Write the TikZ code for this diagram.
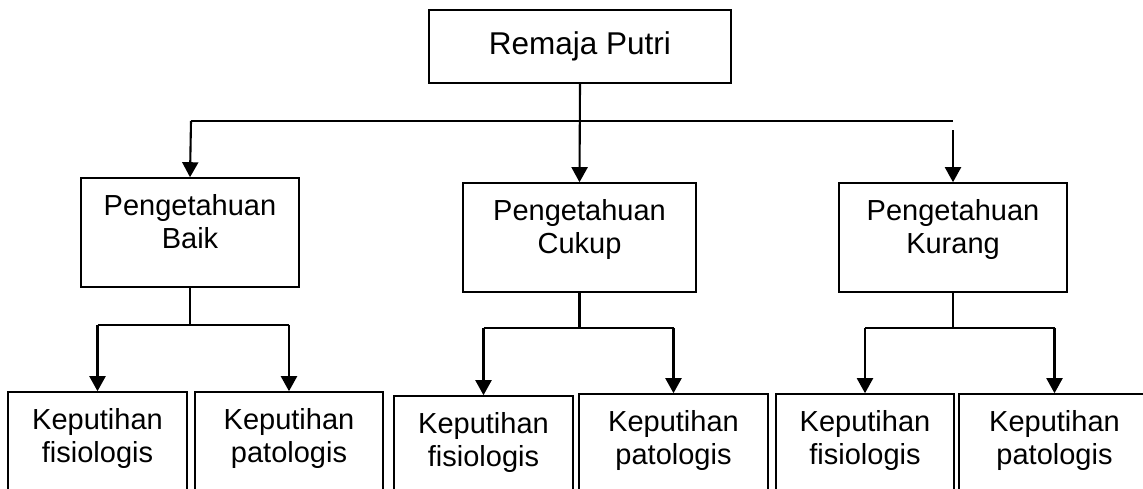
\documentclass[tikz,border=0pt]{standalone}
\usepackage{fontspec}
\setmainfont{Liberation Sans}
\usetikzlibrary{arrows.meta}
\tikzset{
  kotak/.style={draw, line width=1.6pt, inner sep=0pt},
  teks/.style={anchor=north, inner sep=0pt, align=center, font=\fontsize{29}{33.5}\selectfont},
  garis/.style={line width=2.1pt},
  panah/.style={line width=2.1pt, -{Triangle[width=16pt,length=15pt]}},
}
\begin{document}
\begin{tikzpicture}[x=1pt,y=-1pt]
\useasboundingbox (0,0) rectangle (1143,488);
\clip (0,0) rectangle (1143,488);

\node[kotak, minimum width=302pt, minimum height=73pt, font=\fontsize{31.5}{36}\selectfont] (putri) at (580,46.5){Remaja Putri};

\node[kotak, minimum width=218pt, minimum height=109pt] (baik) at (190,232.5){};
\node[kotak, minimum width=233pt, minimum height=109pt] (cukup) at (579.5,237.5){};
\node[kotak, minimum width=228pt, minimum height=109pt] (kurang) at (953,237.5){};

\node[teks] (tbaik) at ([yshift=-17pt]baik.north){Pengetahuan\\Baik};
\node[teks] (tcukup) at ([yshift=-17pt]cukup.north){Pengetahuan\\Cukup};
\node[teks] (tkurang) at ([yshift=-17pt]kurang.north){Pengetahuan\\Kurang};

\node[kotak, minimum width=179pt, minimum height=128pt] (bf) at (97.5,456){};
\node[kotak, minimum width=188pt, minimum height=128pt] (bp) at (289,456){};
\node[kotak, minimum width=179pt, minimum height=124pt] (cf) at (483.5,458){};
\node[kotak, minimum width=189pt, minimum height=126pt] (cp) at (673.5,457){};
\node[kotak, minimum width=178pt, minimum height=126pt] (kf) at (865,457){};
\node[kotak, minimum width=191pt, minimum height=126pt] (kp) at (1054.5,457){};

\node[teks] (tbf) at ([yshift=-17pt]bf.north){Keputihan\\fisiologis};
\node[teks] (tbp) at ([yshift=-17pt]bp.north){Keputihan\\patologis};
\node[teks] (tcf) at ([yshift=-17pt]cf.north){Keputihan\\fisiologis};
\node[teks] (tcp) at ([yshift=-17pt]cp.north){Keputihan\\patologis};
\node[teks] (tkf) at ([yshift=-17pt]kf.north){Keputihan\\fisiologis};
\node[teks] (tkp) at ([yshift=-17pt]kp.north){Keputihan\\patologis};

\coordinate (kiri) at (191,121);
\coordinate (kanan) at (953,121);
\coordinate (kanan2) at (953,130);

\draw[panah](putri.south) -- (cukup.north);
\draw[garis](kiri) -- (kanan);
\draw[panah](kiri) -- (baik.north);
\draw[panah](kanan2) -- (kurang.north);

\draw[garis](baik.south) -- ++(0,37) coordinate (jb);
\draw[garis](bf.north |- jb) -- (bp.north |- jb);
\draw[panah](bf.north |- jb) -- (bf.north);
\draw[panah](bp.north |- jb) -- (bp.north);

\draw[garis](cukup.south) -- ++(0,35) coordinate (jc);
\draw[garis](cf.north |- jc) -- (cp.north |- jc);
\draw[panah](cf.north |- jc) -- (cf.north);
\draw[panah](cp.north |- jc) -- (cp.north);

\draw[garis](kurang.south) -- ++(0,35) coordinate (jk);
\draw[garis](kf.north |- jk) -- (kp.north |- jk);
\draw[panah](kf.north |- jk) -- (kf.north);
\draw[panah](kp.north |- jk) -- (kp.north);

\end{tikzpicture}
\end{document}
